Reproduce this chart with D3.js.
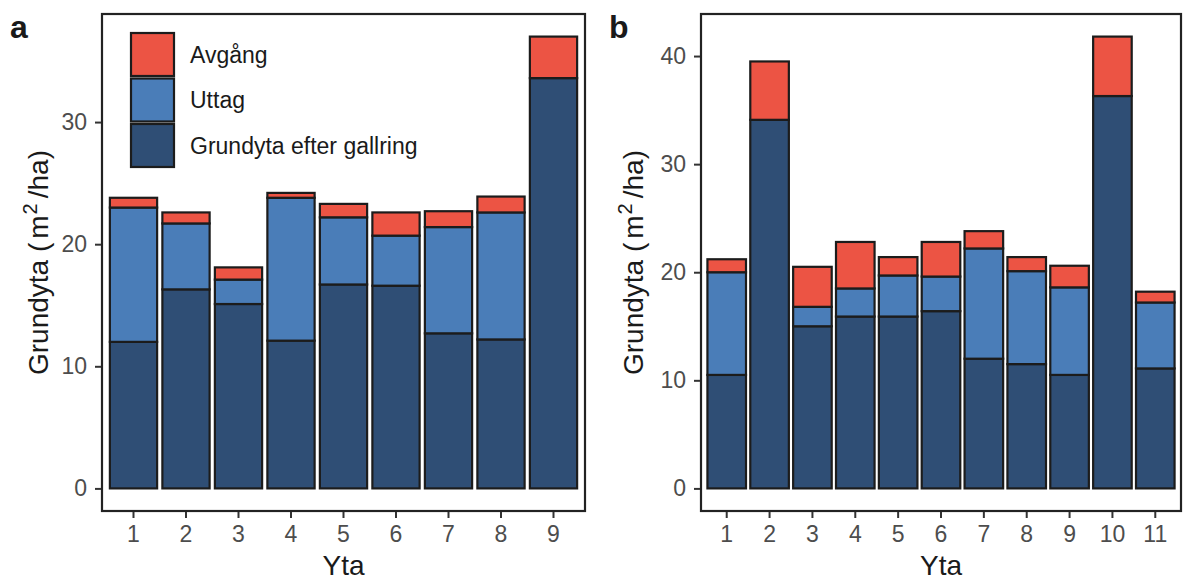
<!DOCTYPE html>
<html>
<head>
<meta charset="utf-8">
<script src="https://cdn.jsdelivr.net/npm/d3@7"></script>
<style>
  body { margin: 0; background: #fff; }
  svg { display: block; font-family: "Liberation Sans", Arial, sans-serif; }
  .tick text { fill: #4d4d4d; font-size: 23px; }
  .tick line { stroke: #333; stroke-width: 2; }
  .domain { display: none; }
</style>
</head>
<body>
<div id="chart"></div>
<script>
// data (m2/ha)
const ytaA = [1, 2, 3, 4, 5, 6, 7, 8, 9];
const efterA = [12.0, 16.3, 15.1, 12.1, 16.7, 16.6, 12.7, 12.2, 33.6];
const uttagA = [11.0, 5.4, 2.0, 11.7, 5.5, 4.1, 8.7, 10.4, 0];
const avgangA = [0.8, 0.9, 1.0, 0.4, 1.1, 1.9, 1.3, 1.3, 3.4];

const ytaB = [1, 2, 3, 4, 5, 6, 7, 8, 9, 10, 11];
const efterB = [10.5, 34.1, 15.0, 15.9, 15.9, 16.4, 12.0, 11.5, 10.5, 36.3, 11.1];
const uttagB = [9.5, 0, 1.8, 2.6, 3.8, 3.2, 10.2, 8.6, 8.1, 0, 6.1];
const avgangB = [1.2, 5.4, 3.7, 4.3, 1.7, 3.2, 1.6, 1.3, 2.0, 5.5, 1.0];

const yTicksA = [0, 10, 20, 30];
const yTicksB = [0, 10, 20, 30, 40];

const keys = ['efter', 'uttag', 'avgang'];
const legendLabels = ['Avgång', 'Uttag', 'Grundyta efter gallring'];
const colours = {efter: '#2f4e75', uttag: '#4a7db8', avgang: '#ec5444'};

const W = 1184, H = 580;
const plotTop = 14, plotBottom = 511;

const svg = d3.select('#chart').append('svg')
  .attr('width', W)
  .attr('height', H);

function toRows(yta, efter, uttag, avgang) {
  return yta.map((d, i) => ({yta: d, efter: efter[i], uttag: uttag[i], avgang: avgang[i]}));
}

function drawPanel(opts) {
  const rows = toRows(opts.yta, opts.efter, opts.uttag, opts.avgang);
  const maxTotal = d3.max(rows, d => d.efter + d.uttag + d.avgang);
  const pad = maxTotal * 0.05;

  const x = d3.scaleBand()
    .domain(opts.yta)
    .range([opts.left, opts.right])
    .paddingInner(0.1)
    .paddingOuter(0.15);
  const y = d3.scaleLinear()
    .domain([-pad, maxTotal + pad])
    .range([plotBottom, plotTop]);

  const g = svg.append('g');

  // stacked bars
  const series = d3.stack().keys(keys)(rows);
  g.append('g')
    .selectAll('g')
    .data(series)
    .join('g')
      .attr('fill', s => colours[s.key])
    .selectAll('rect')
    .data(s => s.filter(d => d[1] - d[0] > 0))
    .join('rect')
      .attr('x', d => x(d.data.yta))
      .attr('width', x.bandwidth())
      .attr('y', d => y(d[1]))
      .attr('height', d => y(d[0]) - y(d[1]))
      .attr('stroke', '#1c1c1c')
      .attr('stroke-width', 2.2);

  // frame
  g.append('rect')
    .attr('x', opts.left)
    .attr('y', plotTop)
    .attr('width', opts.right - opts.left)
    .attr('height', plotBottom - plotTop)
    .attr('fill', 'none')
    .attr('stroke', '#222')
    .attr('stroke-width', 2.2);

  // axes
  g.append('g')
    .attr('transform', `translate(0,${plotBottom + 1})`)
    .call(d3.axisBottom(x).tickSize(6).tickPadding(8));
  g.append('g')
    .attr('transform', `translate(${opts.left - 1},0)`)
    .call(d3.axisLeft(y).tickValues(opts.yTicks).tickSize(6).tickPadding(8));
  svg.selectAll('.tick text').attr('font-size', null).attr('font-family', null);

  // axis titles
  g.append('text')
    .attr('x', (opts.left + opts.right) / 2)
    .attr('y', 575)
    .attr('text-anchor', 'middle')
    .attr('font-size', 28)
    .attr('fill', '#1a1a1a')
    .text('Yta');

  const yt = g.append('text')
    .attr('transform', `translate(${opts.titleX},${(plotTop + plotBottom) / 2}) rotate(-90)`)
    .attr('text-anchor', 'middle')
    .attr('font-size', 28)
    .attr('fill', '#1a1a1a');
  yt.append('tspan').text('Grundyta (');
  yt.append('tspan').attr('dx', 4).text('m');
  yt.append('tspan').attr('font-size', 20).attr('dy', -11).attr('dx', 1).text('2');
  yt.append('tspan').attr('dy', 11).attr('dx', 5).text('/ha)');

  // panel tag
  svg.append('text')
    .attr('x', opts.tagX)
    .attr('y', 38)
    .attr('font-size', 32)
    .attr('font-weight', 'bold')
    .attr('fill', '#1a1a1a')
    .text(opts.tag);
}

drawPanel({yta: ytaA, efter: efterA, uttag: uttagA, avgang: avgangA, yTicks: yTicksA,
  left: 102, right: 585, titleX: 48, tagX: 10, tag: 'a'});
drawPanel({yta: ytaB, efter: efterB, uttag: uttagB, avgang: avgangB, yTicks: yTicksB,
  left: 701, right: 1181, titleX: 643, tagX: 609, tag: 'b'});

// legend (panel a)
const legendKeys = ['avgang', 'uttag', 'efter'];
const legend = svg.append('g')
  .attr('class', 'legend')
  .attr('transform', 'translate(131,33)');
const item = legend.selectAll('g')
  .data(legendKeys)
  .join('g')
    .attr('transform', (d, i) => `translate(0,${i * 45.5})`);
item.append('rect')
  .attr('width', 43)
  .attr('height', 43)
  .attr('fill', d => colours[d])
  .attr('stroke', '#1c1c1c')
  .attr('stroke-width', 2.2);
item.append('text')
  .attr('x', 59)
  .attr('y', 21.5)
  .attr('dy', '0.35em')
  .attr('font-size', 23)
  .attr('fill', '#1a1a1a')
  .text((d, i) => legendLabels[i]);
</script>
</body>
</html>
